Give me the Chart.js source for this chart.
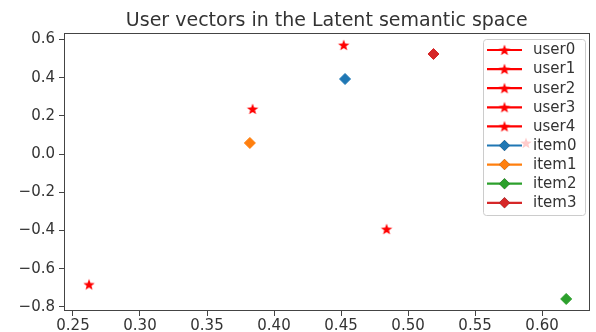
<!DOCTYPE html>
<html>
<head>
<meta charset="utf-8">
<script src="https://cdn.jsdelivr.net/npm/chart.js@4/dist/chart.umd.min.js"></script>
<style>
    html, body { margin: 0; padding: 0; background: #fff; }
    #chart-container { width: 596px; height: 332px; }
</style>
</head>
<body>
<div id="chart-container"><canvas id="chart-latent"></canvas></div>
<script>
// Data
const userNames = ['user0', 'user1', 'user2', 'user3', 'user4'];
const userX = [0.452, 0.384, 0.588, 0.262, 0.484];
const userY = [0.571, 0.236, 0.058, -0.683, -0.393];

const itemNames = ['item0', 'item1', 'item2', 'item3'];
const itemX = [0.453, 0.382, 0.618, 0.519];
const itemY = [0.393, 0.058, -0.759, 0.524];
const itemColors = ['#1f77b4', '#ff7f0e', '#2ca02c', '#d62728'];

const xTicks = [0.25, 0.30, 0.35, 0.40, 0.45, 0.50, 0.55, 0.60];
const yTicks = [-0.8, -0.6, -0.4, -0.2, 0.0, 0.2, 0.4, 0.6];

const chartTitle = 'User vectors in the Latent semantic space';

const FONT = "'DejaVu Sans', sans-serif";
const TEXT_COLOR = '#333';

/**
 * Filled five point star, like matplotlib's '*' marker
 */
function makeStar(color, r) {
    const size = Math.ceil(r * 2) + 2;
    const c = document.createElement('canvas');
    c.width = size;
    c.height = size;
    const g = c.getContext('2d');
    const cx = size / 2, cy = size / 2 + 0.5;
    g.beginPath();
    for (let i = 0; i < 10; i++) {
        const rr = i % 2 ? r * 0.42 : r;
        const a = -Math.PI / 2 + i * Math.PI / 5;
        const px = cx + rr * Math.cos(a), py = cy + rr * Math.sin(a);
        if (i === 0) g.moveTo(px, py); else g.lineTo(px, py);
    }
    g.closePath();
    g.fillStyle = color;
    g.fill();
    return c;
}

const starImg = makeStar('#ff0000', 6);

const datasets = [];
userNames.forEach((name, i) => {
    datasets.push({
        label: name,
        data: [{ x: userX[i], y: userY[i] }],
        pointStyle: starImg,
        backgroundColor: '#ff0000',
        borderColor: '#ff0000',
        showLine: false
    });
});
itemNames.forEach((name, i) => {
    datasets.push({
        label: name,
        data: [{ x: itemX[i], y: itemY[i] }],
        pointStyle: 'rectRot',
        pointRadius: 5.5,
        borderWidth: 1,
        backgroundColor: itemColors[i],
        borderColor: itemColors[i],
        showLine: false
    });
});

// Title centred over the axes, full box around them, and a matplotlib style legend
const framePlugin = {
    id: 'frameAndLegend',
    afterDraw(chart) {
        const ctx = chart.ctx;
        const a = chart.chartArea;
        ctx.save();

        // title
        ctx.font = '19px ' + FONT;
        ctx.fillStyle = TEXT_COLOR;
        ctx.textAlign = 'center';
        ctx.textBaseline = 'alphabetic';
        ctx.fillText(chartTitle, (a.left + a.right) / 2, 26);

        ctx.strokeStyle = '#444';
        ctx.lineWidth = 1;
        ctx.strokeRect(Math.round(a.left) + 0.5, Math.round(a.top) + 0.5,
            Math.round(a.right - a.left) - 1, Math.round(a.bottom - a.top) - 1);

        // legend box
        const bx = 483, by = 39, bw = 102, bh = 176;
        ctx.beginPath();
        ctx.roundRect(bx + 0.5, by + 0.5, bw, bh, 3);
        ctx.fillStyle = 'rgba(255,255,255,0.8)';
        ctx.fill();
        ctx.strokeStyle = '#cccccc';
        ctx.stroke();

        ctx.font = '15px ' + FONT;
        ctx.textBaseline = 'middle';
        ctx.textAlign = 'left';
        chart.data.datasets.forEach((ds, i) => {
            const y = 50 + i * 19.1;
            ctx.strokeStyle = ds.borderColor;
            ctx.lineWidth = 2.2;
            ctx.beginPath();
            ctx.moveTo(487, y);
            ctx.lineTo(522, y);
            ctx.stroke();
            if (ds.pointStyle === 'rectRot') {
                Chart.helpers.drawPoint(ctx, { pointStyle: 'rectRot', radius: 5.5, borderWidth: 0, rotation: 0 }, 504.5, y);
                ctx.fillStyle = ds.backgroundColor;
                ctx.fill();
            } else {
                ctx.drawImage(ds.pointStyle, 504.5 - ds.pointStyle.width / 2, y - ds.pointStyle.height / 2);
            }
            ctx.fillStyle = TEXT_COLOR;
            ctx.fillText(ds.label, 533, y + 0.5);
        });
        ctx.restore();
    }
};

const ctx = document.getElementById('chart-latent').getContext('2d');
const chartInstance = new Chart(ctx, {
    type: 'scatter',
    data: { datasets: datasets },
    options: {
        responsive: true,
        maintainAspectRatio: false,
        animation: false,
        layout: {
            padding: { left: 0, right: 2, top: 33, bottom: 0 }
        },
        plugins: {
            legend: { display: false },
            tooltip: { enabled: false },
            title: { display: false }
        },
        scales: {
            x: {
                type: 'linear',
                min: 0.2433,
                max: 0.6354,
                border: { display: false },
                grid: { drawOnChartArea: false, drawTicks: true, tickLength: 5, color: '#444' },
                afterBuildTicks: scale => {
                    scale.ticks = xTicks.map(v => ({ value: v }));
                },
                afterFit: scale => { scale.height = 21; },
                ticks: {
                    color: TEXT_COLOR,
                    font: { family: FONT, size: 15 },
                    padding: 1,
                    maxRotation: 0,
                    autoSkip: false,
                    callback: value => value.toFixed(2)
                }
            },
            y: {
                type: 'linear',
                min: -0.822,
                max: 0.634,
                border: { display: false },
                grid: { drawOnChartArea: false, drawTicks: true, tickLength: 5, color: '#444' },
                afterBuildTicks: scale => {
                    scale.ticks = yTicks.map(v => ({ value: v }));
                },
                afterFit: scale => { scale.width = 64; },
                ticks: {
                    color: TEXT_COLOR,
                    font: { family: FONT, size: 15 },
                    padding: 4,
                    autoSkip: false,
                    callback: value => (value < 0 ? '\u2212' : '') + Math.abs(value).toFixed(1)
                }
            }
        }
    },
    plugins: [framePlugin]
});
</script>
</body>
</html>
